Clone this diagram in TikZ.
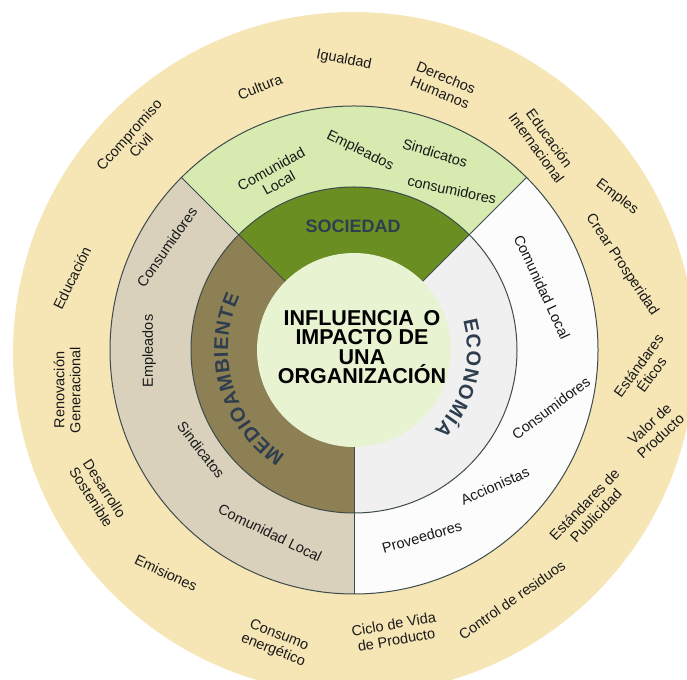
\documentclass[tikz,border=0pt]{standalone}
\usepackage{fontspec}
\setmainfont{Liberation Sans}
\usetikzlibrary{decorations.text,calc}
\definecolor{beige}{HTML}{F6E6B6}
\definecolor{socL}{HTML}{D7EBB0}
\definecolor{socD}{HTML}{6B8E23}
\definecolor{medL}{HTML}{D9D1BB}
\definecolor{medD}{HTML}{8D8054}
\definecolor{ecoL}{HTML}{FCFCFC}
\definecolor{ecoD}{HTML}{F0F0F0}
\definecolor{centerc}{HTML}{E8F3D2}
\definecolor{titlec}{HTML}{2E3E4E}
\definecolor{linegray}{HTML}{3D4B4B}
\begin{document}
\begin{tikzpicture}[x=1pt,y=1pt,
  lbl/.style={font=\fontsize{14.5}{16}\selectfont, align=center, inner sep=0pt, text=black!90},
  ringline/.style={draw=linegray, line width=1pt}]
\useasboundingbox (0,0) rectangle (687,679);
\clip (0,0) rectangle (687,679);
\fill[white] (0,0) rectangle (687,679);
\fill[beige] (354,326) circle[radius=341];
\coordinate (C) at (354,329);
% middle ring
\fill[socL] (C) -- ($(C)+(45:244)$) arc[start angle=45,end angle=135,radius=244] -- cycle;
\fill[medL] (C) -- ($(C)+(135:244)$) arc[start angle=135,end angle=270,radius=244] -- cycle;
\fill[ecoL] (C) -- ($(C)+(270:244)$) arc[start angle=270,end angle=405,radius=244] -- cycle;
% inner ring
\fill[socD] (C) -- ($(C)+(45:163)$) arc[start angle=45,end angle=135,radius=163] -- cycle;
\fill[medD] (C) -- ($(C)+(135:163)$) arc[start angle=135,end angle=270,radius=163] -- cycle;
\fill[ecoD] (C) -- ($(C)+(270:163)$) arc[start angle=270,end angle=405,radius=163] -- cycle;
% lines
\draw[ringline] (C) circle[radius=244];
\draw[ringline] (C) circle[radius=163];
\foreach \a in {45,135,270} \draw[ringline] ($(C)+(\a:97)$) -- ($(C)+(\a:244)$);
% centre
\fill[centerc] (C) circle[radius=97];
\node[font=\fontsize{21.5}{19.5}\selectfont\bfseries, align=center, inner sep=0pt] (title) at (362,332)
  {INFLUENCIA\hspace{0.45em}O\\IMPACTO DE\\UNA\\ORGANIZACIÓN};
% section titles
\node[font=\fontsize{18}{18}\selectfont\bfseries, text=titlec, inner sep=0pt] (soc) at (353,453) {SOCIEDAD};
\path[decorate, decoration={text along path, text color=titlec,
  text={|\fontsize{20}{20}\selectfont\bfseries|MEDIOAMBIENTE}, text align=fit to path}]
  ($(C)+(237:126)$) arc[start angle=237, end angle=155, radius=126];
\path[decorate, decoration={text along path, text color=titlec,
  text={|\fontsize{20}{20}\selectfont\bfseries|ECONOMÍA}, text align=fit to path}]
  ($(C)+(15:113)$) arc[start angle=15, end angle=-45, radius=113];
% sociedad labels
\node[lbl, rotate=29] (s1) at (275,503) {Comunidad\\Local};
\node[lbl, rotate=-26] (s2) at (360,528) {Empleados};
\node[lbl, rotate=-17] (s3) at (435,526) {Sindicatos};
\node[lbl, rotate=-12] (s4) at (452,489) {consumidores};
% medioambiente labels
\node[lbl, rotate=55] (m1) at (167,432) {Consumidores};
\node[lbl, rotate=90] (m2) at (149,328) {Empleados};
\node[lbl, rotate=-52] (m3) at (201,229) {Sindicatos};
\node[lbl, rotate=-26] (m4) at (270,146) {Comunidad Local};
% economia labels
\node[lbl, rotate=-65] (e1) at (542,392) {Comunidad Local};
\node[lbl, rotate=37] (e2) at (551,271) {Consumidores};
\node[lbl, rotate=24] (e3) at (495,193) {Accionistas};
\node[lbl, rotate=16] (e4) at (422,142) {Proveedores};
% outer ring labels
\node[lbl, rotate=-11] (o1) at (344,619) {Igualdad};
\node[lbl, rotate=22] (o2) at (260,592) {Cultura};
\node[lbl, rotate=-22] (o3) at (443,594) {Derechos\\Humanos};
\node[lbl, rotate=-54] (o4) at (543,536) {Educación\\Internacional};
\node[lbl, rotate=-37] (o5) at (617,482) {Emples};
\node[lbl, rotate=-56] (o6) at (622,414) {Crear Prosperidad};
\node[lbl, rotate=54] (o7) at (645,309) {Estándares\\Éticos};
\node[lbl, rotate=43] (o8) at (655,249) {Valor de\\Producto};
\node[lbl, rotate=46] (o9) at (590,169) {Estándares de\\Publicidad};
\node[lbl, rotate=35] (o10) at (512,79) {Control de residuos};
\node[lbl, rotate=10] (o11) at (395,47) {Ciclo de Vida\\de Producto};
\node[lbl, rotate=-22] (o12) at (276,36) {Consumo\\energético};
\node[lbl, rotate=-25] (o13) at (166,106) {Emisiones};
\node[lbl, rotate=-57] (o14) at (98,186) {Desarrollo\\Sostenible};
\node[lbl, rotate=90] (o15) at (67,289) {Renovación\\Generacional};
\node[lbl, rotate=64] (o16) at (72,401) {Educación};
\node[lbl, rotate=48] (o17) at (135,539) {Ccompromiso\\Civil};
\end{tikzpicture}
\end{document}
